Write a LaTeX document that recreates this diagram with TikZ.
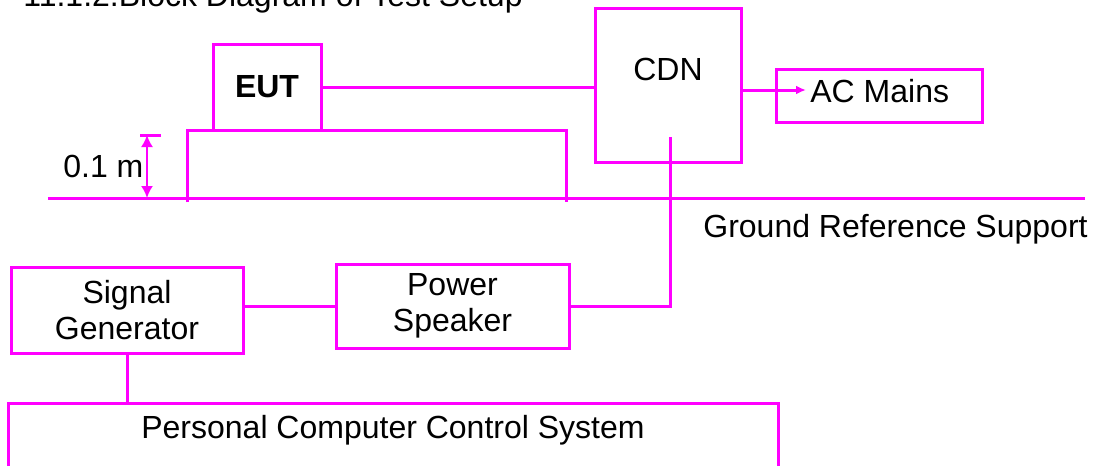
\documentclass[tikz,border=0pt]{standalone}
\usepackage{fontspec}
\setmainfont{Liberation Sans}
\usetikzlibrary{arrows.meta}
\definecolor{mag}{RGB}{255,0,255}
\begin{document}
\begin{tikzpicture}[x=0.5pt,y=-0.5pt,
  every node/.style={font=\fontsize{16}{18}\selectfont, text=black},
  wire/.style={draw=mag, line width=1.5pt},
  box/.style={draw=mag, line width=1.5pt, inner sep=0pt, align=center},
  txt/.style={inner sep=0pt, anchor=base}]
\useasboundingbox (0,0) rectangle (1100,466);
% title (cut at the top)
\node[txt, anchor=base east] (title) at (523,6.5) {11.1.2.Block Diagram of Test Setup};
% boxes
\node[box, minimum width=54pt, minimum height=43pt, font=\fontsize{16}{18}\selectfont\bfseries] (eut) at (267,87) {EUT};
\node[box, minimum width=73pt, minimum height=77pt] (cdn) at (668,85) {};
\node[txt] (cdnlbl) at (668,80) {CDN};
\node[box, minimum width=103pt, minimum height=26.5pt] (acm) at (879,95.5) {};
\node[txt, anchor=base west] (acmlbl) at (810,103) {AC Mains};
\node[box, minimum width=116pt, minimum height=43pt] (sg) at (127,310) {Signal\\Generator};
\node[box, minimum width=116.5pt, minimum height=42pt] (ps) at (452.5,306) {Power\\Speaker};
% table
\draw[wire] (187,202) -- (187,130) -- (566,130) -- (566,202);
% ground line
\draw[wire] (48,198) -- (1085,198);
\node[txt, anchor=base west] (grs) at (703,237) {Ground Reference Support};
% height dimension
\draw[draw=mag, line width=1pt, {Latex[length=6pt,width=6pt]}-{Latex[length=6pt,width=6pt]}] (147,135) -- (147,198);
\draw[draw=mag, line width=1.5pt] (140,135) -- (161,135);
\node[txt, anchor=base west] (dim) at (63,177) {0.1 m};
% PC control system (open bottom)
\coordinate (pcl) at (8,403);
\coordinate (pcr) at (778,403);
\draw[wire] (8,470) -- (pcl) -- (pcr) -- (778,470);
\node[txt] (pc) at (393,438) {Personal Computer Control System};
% connectors
\coordinate (acmtip) at (806,90);
\coordinate (cdnin) at (670,137);
\draw[wire] (eut.east) -- (eut.east -| cdn.west);
\draw[wire, -{Latex[length=5pt,width=4.5pt]}] (cdn.east |- acmtip) -- (acmtip);
\draw[wire] (ps.west -| sg.east) -- (ps.west);
\draw[wire] (ps.east) -| (cdnin);
\draw[wire] (sg.south) -- (sg.south |- pcl);
\end{tikzpicture}
\end{document}
